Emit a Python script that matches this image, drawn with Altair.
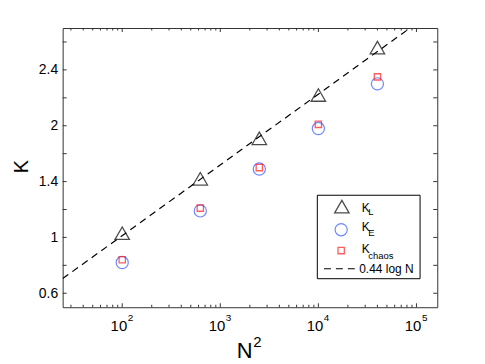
import altair as alt
import pandas as pd

# ---- data ----
N2 = [100, 625, 2500, 10000, 40000]
K_L = [1.03, 1.42, 1.71, 2.02, 2.36]
K_E = [0.82, 1.19, 1.49, 1.78, 2.10]
K_chaos = [0.84, 1.21, 1.50, 1.81, 2.15]

# dashed reference line "0.44 log N" (end points)
fit_N2 = [24.7, 86000]
fit_K = [0.705, 2.5]

x_domain = [24.7, 163000]
y_domain = [0.5, 2.5]

xtick_major = [100, 1000, 10000, 100000]
xtick_exp = ["2", "3", "4", "5"]
xtick_minor = [30, 40, 50, 60, 70, 80, 90,
               200, 300, 400, 500, 600, 700, 800, 900,
               2000, 3000, 4000, 5000, 6000, 7000, 8000, 9000,
               20000, 30000, 40000, 50000, 60000, 70000, 80000, 90000]
ytick_values = [0.6, 1.0, 1.4, 1.8, 2.2]
ytick_labels = ["0.6", "1", "1.4", "2", "2.4"]
ytick_all = [0.6, 0.8, 1.0, 1.2, 1.4, 1.6, 1.8, 2.0, 2.2, 2.4]

W, H = 377, 281
FONT = "Liberation Sans"
FRAME = "#333333"

xs = alt.Scale(type="log", domain=x_domain, nice=False)
ys = alt.Scale(domain=y_domain, nice=False, zero=False)

label_expr = ""
for v, l in zip(ytick_values, ytick_labels):
    label_expr += f"abs(datum.value - {v}) < 0.01 ? '{l}' : "
label_expr += "''"

yaxis = alt.Axis(values=ytick_values, labelExpr=label_expr, ticks=False, domain=False,
                 grid=False, labelFont=FONT, labelFontSize=14, labelColor="black",
                 labelPadding=5, title="K", titleFont=FONT, titleFontSize=20,
                 titleFontWeight="normal", titleColor="black", titleX=-35.7, titleY=139,
                 titleBaseline="alphabetic", titleAlign="center", titleAngle=270)

X = alt.X("x:Q", scale=xs, axis=None)
Y = alt.Y("K:Q", scale=ys, axis=yaxis)

def df(x, k):
    return pd.DataFrame({"x": x, "K": k})

fit = alt.Chart(df(fit_N2, fit_K)).mark_line(
    color="black", strokeDash=[7, 5], strokeWidth=1.2, clip=True
).encode(x=X, y=Y)

tri = alt.Chart(df(N2, K_L)).mark_point(
    shape="triangle-up", size=210, filled=False, color="black", strokeWidth=1.3
).encode(x=X, y=Y)

circ = alt.Chart(df(N2, K_E)).mark_point(
    shape="circle", size=150, filled=False, color="#2f55ff", strokeWidth=1.2
).encode(x=X, y=Y)

sq = alt.Chart(df(N2, K_chaos)).mark_point(
    shape="square", size=40, filled=False, color="#ff1a1a", strokeWidth=1.3
).encode(x=X, y=Y)

# inward ticks
xmaj = pd.DataFrame({"x": xtick_major, "e": xtick_exp})
xmin = pd.DataFrame({"x": xtick_minor})
yall = pd.DataFrame({"K": ytick_all})

tick_style = dict(color=FRAME, strokeWidth=1)
ticks = [
    alt.Chart(xmaj).mark_rule(**tick_style).encode(x=X, y=alt.value(H), y2=alt.value(H - 4)),
    alt.Chart(xmaj).mark_rule(**tick_style).encode(x=X, y=alt.value(0), y2=alt.value(4)),
    alt.Chart(xmin).mark_rule(**tick_style).encode(x=X, y=alt.value(H), y2=alt.value(H - 2.5)),
    alt.Chart(xmin).mark_rule(**tick_style).encode(x=X, y=alt.value(0), y2=alt.value(2.5)),
    alt.Chart(yall).mark_rule(**tick_style).encode(y=Y, x=alt.value(0), x2=alt.value(4)),
    alt.Chart(yall).mark_rule(**tick_style).encode(y=Y, x=alt.value(W), x2=alt.value(W - 4)),
]

# x tick labels 10^n
xlab10 = alt.Chart(xmaj).mark_text(
    text="10", align="right", baseline="alphabetic", dx=5, font=FONT, fontSize=15, color="black"
).encode(x=X, y=alt.value(304.7))
xlabexp = alt.Chart(xmaj).mark_text(
    align="left", baseline="alphabetic", dx=5.5, font=FONT, fontSize=10, color="black"
).encode(x=X, y=alt.value(294.7), text="e:N")

one = pd.DataFrame({"a": [0]})

def txt(s, x, y, size, align="left"):
    return alt.Chart(one).mark_text(
        text=s, align=align, baseline="alphabetic", font=FONT, fontSize=size, color="black"
    ).encode(x=alt.value(x), y=alt.value(y))

# x axis title N^2
xtitle = [txt("N", 191, 332.3, 22, "right"), txt("2", 191.8, 321.3, 15)]

# manual legend
leg_box = alt.Chart(one).mark_rect(fill="white", stroke="black", strokeWidth=1).encode(
    x=alt.value(256.3), x2=alt.value(359.7), y=alt.value(168.3), y2=alt.value(252.3))
leg_tri = alt.Chart(one).mark_point(
    shape="triangle-up", size=210, filled=False, color="black", strokeWidth=1.3
).encode(x=alt.value(281), y=alt.value(179.7))
leg_circ = alt.Chart(one).mark_point(
    shape="circle", size=150, filled=False, color="#2f55ff", strokeWidth=1.2
).encode(x=alt.value(280.3), y=alt.value(203))
leg_sq = alt.Chart(one).mark_point(
    shape="square", size=40, filled=False, color="#ff1a1a", strokeWidth=1.3
).encode(x=alt.value(280.3), y=alt.value(224))
leg_line = alt.Chart(one).mark_rule(color="black", strokeDash=[7, 5], strokeWidth=1.2).encode(
    x=alt.value(263), x2=alt.value(299), y=alt.value(242.3))
leg_text = [
    txt("K", 301, 184.7, 12), txt("L", 307.5, 188, 9.5),
    txt("K", 301, 204.7, 12), txt("E", 307.5, 209.7, 9.5),
    txt("K", 301, 226.3, 12), txt("chaos", 307.5, 232, 9.5),
    txt("0.44 log N", 298.5, 247, 12),
]

chart = alt.layer(
    fit, *ticks, circ, sq, tri, xlab10, xlabexp, *xtitle,
    leg_box, leg_tri, leg_circ, leg_sq, leg_line, *leg_text
).properties(
    width=W, height=H,
    padding={"left": 55, "top": 19, "right": 40, "bottom": 56},
    autosize=alt.AutoSizeParams(type="none"),
    background="white",
).configure_view(stroke=FRAME, strokeWidth=1)

chart.save("out.html", embed_options={"renderer": "svg", "actions": False})
